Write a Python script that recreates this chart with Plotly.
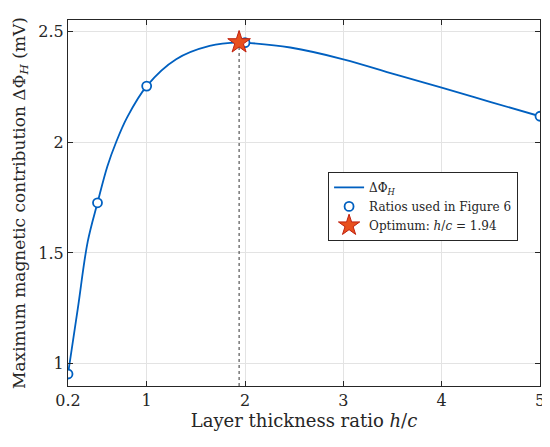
import plotly.graph_objects as go

# values
curve_x = [0.2, 0.3, 0.4, 0.5, 0.6, 0.69, 0.8, 1.0, 1.3, 1.64, 1.94, 2.0, 2.46, 3.0, 3.58, 4.0, 4.5, 5.0]
curve_y = [0.954, 1.25, 1.55, 1.726, 1.89, 2.0, 2.11, 2.252, 2.373, 2.433, 2.449, 2.448, 2.426, 2.373, 2.298, 2.245, 2.18, 2.116]

ratio_x = [0.2, 0.5, 1.0, 2.0, 5.0]
ratio_y = [0.954, 1.726, 2.252, 2.448, 2.116]

opt_x = 1.94
opt_y = 2.449

x_ticks = [0.2, 1, 2, 3, 4, 5]
y_ticks = [1, 1.5, 2, 2.5]

blue = "#0060C0"
axis_col = "#262626"
font = "DejaVu Serif"

fig = go.Figure()

# dotted drop line under the optimum
fig.add_trace(go.Scatter(
    x=[opt_x, opt_x], y=[0.9, opt_y],
    mode="lines", line=dict(color="#333333", width=1, dash="dot"),
    showlegend=False, hoverinfo="skip",
))

fig.add_trace(go.Scatter(
    x=curve_x, y=curve_y, mode="lines",
    line=dict(color=blue, width=1.8, shape="spline", smoothing=1.0),
    name="ΔΦ<sub><i>H</i></sub>",
))

fig.add_trace(go.Scatter(
    x=ratio_x, y=ratio_y, mode="markers",
    marker=dict(symbol="circle", size=9, color="white",
                line=dict(color=blue, width=1.8)),
    name="Ratios used in Figure 6",
))

fig.add_trace(go.Scatter(
    x=[opt_x], y=[opt_y], mode="markers",
    marker=dict(symbol="star", size=17, color="#E8501E",
                line=dict(color="#C0200E", width=1)),
    name="Optimum: <i>h</i>/<i>c</i> = 1.94",
))

axis_common = dict(
    showline=True, linecolor=axis_col, linewidth=1,
    mirror="ticks", ticks="inside", ticklen=5, tickcolor=axis_col,
    showgrid=True, gridcolor="#E3E3E3", gridwidth=1,
    zeroline=False, automargin=False,
    tickfont=dict(family=font, size=16, color=axis_col),
)

fig.update_xaxes(
    range=[0.2, 5], tickvals=x_ticks, ticktext=[str(t) for t in x_ticks],
    title=dict(text="Layer thickness ratio <i>h</i>/<i>c</i>",
               font=dict(family=font, size=18, color=axis_col), standoff=4),
    **axis_common,
)
fig.update_yaxes(
    range=[0.9, 2.55], tickvals=y_ticks, ticktext=["1", "1.5", "2", "2.5"],
    title=dict(text="Maximum magnetic contribution ΔΦ<sub><i>H</i></sub> (mV)",
               font=dict(family=font, size=17, color=axis_col), standoff=8),
    **axis_common,
)

# the page body has an 8px margin, so the figure is shrunk and shifted by it
fig.update_layout(
    width=542, height=439,
    margin=dict(l=60, r=10, t=12, b=61),
    paper_bgcolor="white", plot_bgcolor="white",
    font=dict(family=font, color=axis_col),
    legend=dict(
        x=0.551, y=0.585, xanchor="left", yanchor="top",
        bgcolor="white", bordercolor=axis_col, borderwidth=1,
        font=dict(family=font, size=12, color=axis_col),
        tracegroupgap=0, itemwidth=30,
    ),
)

fig.write_html("out.html")
